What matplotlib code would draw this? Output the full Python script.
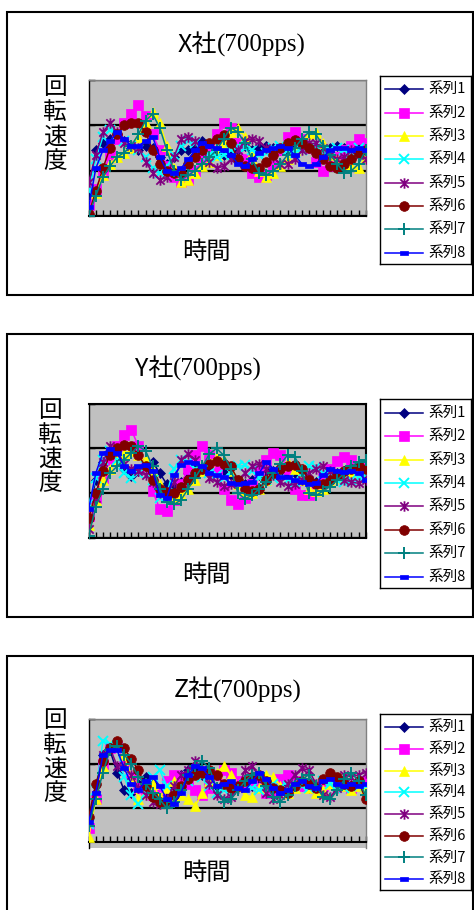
import matplotlib
matplotlib.use("Agg")
import matplotlib.pyplot as plt
from matplotlib.path import Path
from matplotlib.patches import Rectangle
import numpy as np

# ---------------------------------------------------------------- data
steps = list(range(40))
series_names = ["系列1", "系列2", "系列3", "系列4", "系列5", "系列6", "系列7", "系列8"]
companies = ["X社", "Y社", "Z社"]
condition = "(700pps)"
y_label = "回転速度"
x_label = "時間"

# X社
x_s1 = [0.50, 1.45, 1.60, 1.70, 1.80, 1.65, 1.50, 1.45, 1.55, 1.50, 1.30, 1.15, 1.30, 1.45, 1.45, 1.50, 1.65, 1.55, 1.40, 1.35,
        1.35, 1.45, 1.55, 1.45, 1.50, 1.55, 1.50, 1.45, 1.45, 1.50, 1.55, 1.55, 1.50, 1.45, 1.50, 1.55, 1.50, 1.45, 1.50, 1.50]
x_s2 = [0.25, 0.60, 0.95, 1.35, 1.70, 2.05, 2.25, 2.45, 2.20, 1.80, 1.45, 1.10, 0.85, 0.75, 0.80, 1.00, 1.25, 1.55, 1.80, 2.05,
        1.95, 1.60, 1.25, 0.95, 0.85, 0.90, 1.10, 1.45, 1.75, 1.85, 1.70, 1.50, 1.20, 1.00, 1.10, 1.30, 1.45, 1.55, 1.70, 1.60]
x_s3 = [0.05, 0.50, 0.90, 1.15, 1.30, 1.40, 1.50, 1.75, 2.05, 2.30, 2.05, 1.55, 1.05, 0.75, 0.80, 0.95, 1.10, 1.20, 1.35, 1.60,
        1.85, 1.95, 1.75, 1.40, 1.00, 0.85, 0.95, 1.10, 1.25, 1.45, 1.60, 1.80, 1.85, 1.60, 1.35, 1.25, 1.15, 1.10, 1.05, 1.30]
x_s4 = [0.55, 1.25, 1.75, 1.90, 1.80, 1.65, 1.55, 1.45, 1.30, 1.05, 0.95, 1.10, 1.35, 1.55, 1.65, 1.60, 1.45, 1.35, 1.30, 1.35,
        1.45, 1.55, 1.50, 1.45, 1.35, 1.40, 1.50, 1.55, 1.45, 1.40, 1.45, 1.50, 1.50, 1.40, 1.45, 1.50, 1.45, 1.40, 1.50, 1.45]
x_s5 = [0.75, 1.35, 1.85, 2.05, 1.85, 1.60, 1.55, 1.50, 1.20, 0.95, 0.80, 0.85, 1.30, 1.70, 1.75, 1.65, 1.45, 1.20, 1.05, 1.10,
        1.25, 1.45, 1.65, 1.70, 1.65, 1.50, 1.30, 1.15, 1.15, 1.25, 1.45, 1.60, 1.60, 1.50, 1.35, 1.25, 1.30, 1.45, 1.35, 1.25]
x_s6 = [0.05, 0.55, 1.05, 1.50, 1.80, 2.00, 2.05, 2.05, 1.85, 1.45, 1.15, 1.00, 0.95, 0.95, 1.15, 1.30, 1.45, 1.60, 1.70, 1.78,
        1.60, 1.25, 1.10, 1.05, 1.05, 1.20, 1.35, 1.50, 1.62, 1.68, 1.60, 1.50, 1.40, 1.25, 1.10, 1.05, 1.15, 1.25, 1.40, 1.45]
x_s7 = [0.00, 0.45, 0.85, 1.10, 1.30, 1.40, 1.55, 1.80, 2.10, 2.25, 1.95, 1.45, 1.00, 0.80, 0.90, 1.00, 1.15, 1.30, 1.45, 1.70,
        1.95, 1.85, 1.60, 1.25, 0.95, 0.90, 1.00, 1.15, 1.35, 1.50, 1.70, 1.85, 1.80, 1.55, 1.35, 1.15, 0.95, 1.00, 1.15, 1.45]
x_s8 = [0.20, 1.05, 1.45, 1.65, 1.85, 1.70, 1.55, 1.55, 1.65, 1.75, 1.30, 1.00, 0.95, 1.05, 1.25, 1.45, 1.62, 1.55, 1.50, 1.45,
        1.35, 1.15, 1.10, 1.25, 1.40, 1.45, 1.50, 1.55, 1.50, 1.35, 1.15, 1.10, 1.15, 1.30, 1.45, 1.50, 1.50, 1.45, 1.50, 1.45]

# Y社
y_s1 = [0.55, 1.30, 1.70, 1.95, 1.80, 1.55, 1.38, 1.50, 1.65, 1.70, 1.45, 1.20, 1.15, 1.25, 1.45, 1.58, 1.55, 1.50, 1.45, 1.50,
        1.40, 1.25, 1.20, 1.30, 1.40, 1.50, 1.50, 1.45, 1.40, 1.45, 1.42, 1.30, 1.25, 1.30, 1.40, 1.45, 1.50, 1.50, 1.45, 1.45]
y_s2 = [0.50, 0.90, 1.35, 1.75, 2.05, 2.30, 2.42, 2.05, 1.60, 1.05, 0.65, 0.60, 0.85, 1.20, 1.55, 1.85, 2.05, 1.85, 1.50, 1.10,
        0.85, 0.75, 0.90, 1.20, 1.50, 1.75, 1.90, 1.85, 1.55, 1.10, 0.95, 0.95, 1.10, 1.35, 1.55, 1.72, 1.80, 1.75, 1.60, 1.55]
y_s3 = [0.30, 0.85, 1.30, 1.55, 1.75, 1.90, 1.95, 1.85, 1.75, 1.50, 1.20, 1.00, 0.90, 0.95, 1.10, 1.30, 1.50, 1.70, 1.80, 1.75,
        1.50, 1.20, 1.05, 1.00, 1.10, 1.30, 1.45, 1.60, 1.70, 1.55, 1.30, 1.10, 1.05, 1.10, 1.25, 1.35, 1.40, 1.45, 1.50, 1.50]
y_s4 = [0.75, 1.35, 1.75, 1.95, 1.75, 1.45, 1.35, 1.45, 1.60, 1.30, 0.90, 1.00, 1.55, 1.75, 1.70, 1.55, 1.50, 1.45, 1.40, 1.35,
        1.45, 1.60, 1.62, 1.50, 1.35, 1.30, 1.35, 1.40, 1.30, 1.25, 1.45, 1.60, 1.58, 1.45, 1.40, 1.30, 1.25, 1.30, 1.35, 1.40]
y_s5 = [0.20, 0.90, 1.70, 2.05, 1.95, 1.65, 1.55, 1.50, 1.40, 1.25, 1.00, 0.95, 1.25, 1.75, 1.88, 1.75, 1.55, 1.35, 1.25, 1.17,
        1.20, 1.30, 1.45, 1.60, 1.66, 1.55, 1.40, 1.25, 1.17, 1.20, 1.30, 1.45, 1.55, 1.60, 1.50, 1.40, 1.30, 1.25, 1.22, 1.30]
y_s6 = [0.45, 1.00, 1.50, 1.85, 2.02, 2.08, 2.05, 1.85, 1.60, 1.30, 1.10, 1.02, 1.00, 1.15, 1.30, 1.45, 1.55, 1.65, 1.72, 1.65,
        1.60, 1.30, 1.10, 1.05, 1.10, 1.30, 1.45, 1.55, 1.60, 1.62, 1.55, 1.30, 1.20, 1.20, 1.30, 1.40, 1.50, 1.55, 1.60, 1.55]
y_s7 = [0.05, 0.70, 1.10, 1.45, 1.60, 1.75, 1.90, 2.05, 1.95, 1.60, 1.10, 0.80, 0.75, 0.85, 1.10, 1.35, 1.60, 1.88, 2.00, 1.85,
        1.55, 1.00, 0.88, 0.95, 1.10, 1.25, 1.45, 1.65, 1.85, 1.82, 1.50, 1.00, 0.95, 1.05, 1.15, 1.30, 1.45, 1.60, 1.70, 1.75]
y_s8 = [0.65, 1.45, 1.90, 1.98, 1.90, 1.60, 1.50, 1.60, 1.62, 1.50, 0.95, 0.90, 1.40, 1.62, 1.70, 1.68, 1.60, 1.45, 1.40, 1.36,
        1.22, 1.20, 1.22, 1.25, 1.45, 1.70, 1.55, 1.36, 1.36, 1.30, 1.25, 1.21, 1.22, 1.40, 1.55, 1.50, 1.48, 1.50, 1.45, 1.30]

# Z社
z_s1 = [0.60, 1.30, 2.20, 2.30, 1.80, 1.40, 1.35, 1.55, 1.70, 1.55, 1.40, 1.35, 1.50, 1.75, 1.85, 1.90, 1.75, 1.60, 1.45, 1.50,
        1.55, 1.50, 1.45, 1.50, 1.60, 1.55, 1.50, 1.45, 1.50, 1.55, 1.50, 1.45, 1.50, 1.55, 1.60, 1.55, 1.50, 1.50, 1.55, 1.50]
z_s2 = [0.55, 1.20, 2.00, 2.35, 2.40, 2.05, 1.70, 1.45, 1.35, 1.30, 1.40, 1.60, 1.75, 1.70, 1.55, 1.40, 1.30, 1.45, 1.75, 1.85,
        1.80, 1.60, 1.50, 1.55, 1.45, 1.35, 1.40, 1.65, 1.75, 1.60, 1.50, 1.55, 1.45, 1.50, 1.55, 1.60, 1.50, 1.45, 1.55, 1.60]
z_s3 = [0.35, 1.20, 1.95, 2.40, 2.50, 2.20, 1.70, 1.20, 1.35, 1.55, 1.25, 1.45, 1.60, 1.30, 1.20, 1.05, 1.35, 1.60, 1.80, 1.95,
        1.75, 1.50, 1.30, 1.25, 1.45, 1.75, 1.70, 1.50, 1.35, 1.45, 1.60, 1.45, 1.35, 1.40, 1.55, 1.65, 1.50, 1.40, 1.50, 1.45]
z_s4 = [0.65, 1.40, 2.50, 2.45, 2.35, 1.70, 1.30, 1.10, 1.35, 1.70, 1.85, 1.50, 1.35, 1.45, 1.60, 1.75, 1.70, 1.50, 1.35, 1.40,
        1.45, 1.50, 1.55, 1.45, 1.40, 1.50, 1.55, 1.45, 1.50, 1.55, 1.50, 1.45, 1.50, 1.60, 1.55, 1.50, 1.45, 1.55, 1.50, 1.50]
z_s5 = [0.70, 1.45, 2.20, 2.35, 1.95, 1.95, 1.75, 1.45, 1.30, 1.15, 1.10, 1.20, 1.50, 1.75, 1.85, 2.05, 1.85, 1.55, 1.30, 1.20,
        1.25, 1.45, 1.85, 1.95, 1.70, 1.35, 1.20, 1.30, 1.55, 1.75, 1.90, 1.85, 1.55, 1.30, 1.25, 1.45, 1.75, 1.70, 1.75, 1.80]
z_s6 = [0.80, 1.55, 2.05, 2.35, 2.50, 2.35, 2.10, 1.85, 1.50, 1.25, 1.15, 1.15, 1.30, 1.50, 1.65, 1.75, 1.80, 1.85, 1.75, 1.55,
        1.45, 1.50, 1.60, 1.70, 1.75, 1.60, 1.45, 1.40, 1.35, 1.50, 1.60, 1.55, 1.45, 1.65, 1.80, 1.70, 1.55, 1.50, 1.60, 1.20]
z_s7 = [0.60, 1.20, 1.80, 2.30, 2.40, 2.20, 2.00, 1.70, 1.55, 1.35, 1.20, 1.00, 1.15, 1.40, 1.75, 1.95, 2.05, 1.90, 1.45, 1.15,
        1.20, 1.40, 1.60, 1.75, 1.80, 1.50, 1.25, 1.15, 1.30, 1.50, 1.65, 1.75, 1.50, 1.25, 1.20, 1.40, 1.65, 1.80, 1.60, 1.30]
z_s8 = [0.70, 1.35, 2.20, 2.30, 2.30, 1.90, 1.55, 1.40, 1.60, 1.70, 1.50, 1.20, 1.10, 1.35, 1.75, 1.95, 1.90, 1.70, 1.50, 1.55,
        1.60, 1.45, 1.40, 1.60, 1.80, 1.65, 1.45, 1.35, 1.40, 1.55, 1.60, 1.50, 1.45, 1.60, 1.65, 1.55, 1.50, 1.55, 1.50, 1.55]

x_company = [x_s1, x_s2, x_s3, x_s4, x_s5, x_s6, x_s7, x_s8]
y_company = [y_s1, y_s2, y_s3, y_s4, y_s5, y_s6, y_s7, y_s8]
z_company = [z_s1, z_s2, z_s3, z_s4, z_s5, z_s6, z_s7, z_s8]

# ---------------------------------------------------------------- styles
star_path = Path([(0, -1), (0, 1), (-0.8, -0.8), (0.8, 0.8), (-0.8, 0.8), (0.8, -0.8)],
                 [Path.MOVETO, Path.LINETO, Path.MOVETO, Path.LINETO, Path.MOVETO, Path.LINETO])
bar_path = Path([(-1, -0.55), (1, -0.55), (1, 0.55), (-1, 0.55), (-1, -0.55)],
                [Path.MOVETO, Path.LINETO, Path.LINETO, Path.LINETO, Path.CLOSEPOLY])

styles = [
    dict(color="#000080", marker="D", ms=5.5, mew=0.5),
    dict(color="#FF00FF", marker="s", ms=7.0, mew=0.5),
    dict(color="#FFFF00", marker="^", ms=7.5, mew=0.5),
    dict(color="#00FFFF", marker="x", ms=6.5, mew=1.4),
    dict(color="#800080", marker=star_path, ms=7.5, mew=1.3),
    dict(color="#800000", marker="o", ms=7.0, mew=0.5),
    dict(color="#008080", marker="+", ms=8.0, mew=1.4),
    dict(color="#0000FF", marker=bar_path, ms=6.0, mew=0.5),
]

cjk = ["Noto Sans CJK JP", "DejaVu Sans"]
serif = ["Liberation Serif", "DejaVu Serif"]

W, H = 474, 910
fig = plt.figure(figsize=(W / 100, H / 100), dpi=100)
fig.patch.set_facecolor("white")


def fx(x):
    return x / W


def fy(y):
    return 1 - y / H


# per-chart layout in pixels
layouts = [
    dict(data=x_company, box=(12, 295), plot=(80, 216), ymin=0.0, axis_at=0.0,
         title_join=216.5, title_base=51.7, ylab_x=55, ylab_y=[87.5, 112.5, 137, 161.7],
         xlab_y=252.3, legend=(76, 264.3), leg_first=89.3, leg_step=23.35, frame="#808080"),
    dict(data=y_company, box=(334.3, 617.3), plot=(403.7, 538), ymin=0.0, axis_at=0.0,
         title_join=173.3, title_base=376, ylab_x=50, ylab_y=[410.7, 435, 459, 484],
         xlab_y=575, legend=(399, 588.3), leg_first=412.7, leg_step=23.4, frame="black"),
    dict(data=z_company, box=(655.7, 915), plot=(719, 847.7), ymin=0.117, axis_at=0.25,
         title_join=213.3, title_base=697.3, ylab_x=55, ylab_y=[720.5, 745, 769.7, 794],
         xlab_y=873.3, legend=(714.3, 890), leg_first=727.3, leg_step=21.7, frame="#808080"),
]

plot_left, plot_right = 88.7, 365.7

for comp, lay in zip(companies, layouts):
    # outer chart frame
    top, bot = lay["box"]
    fig.patches.append(Rectangle((fx(7.3), fy(bot)), fx(472.5 - 7.3), (bot - top) / H,
                                 transform=fig.transFigure, fill=False,
                                 edgecolor="black", lw=1.5, zorder=0))

    # plot area
    ptop, pbot = lay["plot"]
    ax = fig.add_axes([fx(plot_left), fy(pbot), fx(plot_right - plot_left), (pbot - ptop) / H])
    ax.set_facecolor("#C0C0C0")
    ax.set_xlim(0, 39)
    ax.set_ylim(lay["ymin"], 3)
    ax.set_yticks([1, 2, 3] if lay["ymin"] > 0 else [0, 1, 2, 3])
    ax.set_xticks(steps)
    ax.yaxis.grid(True, color="black", lw=1.6)
    ax.set_axisbelow(True)
    ax.tick_params(axis="x", direction="in", length=4, width=1, color="black",
                   labelbottom=False)
    ax.tick_params(axis="y", direction="in", length=4, width=1, color="black",
                   labelleft=False)
    for side in ("top", "right"):
        ax.spines[side].set_color(lay["frame"])
        ax.spines[side].set_linewidth(1.5 if lay["frame"] == "black" else 1.0)
    ax.spines["left"].set_color("black")
    ax.spines["left"].set_linewidth(1.0)
    ax.spines["bottom"].set_color("black")
    ax.spines["bottom"].set_linewidth(1.5)
    if lay["axis_at"] > lay["ymin"]:
        ax.spines["bottom"].set_position(("data", lay["axis_at"]))

    for k, (vals, st) in enumerate(zip(lay["data"], styles)):
        ax.plot(steps, vals, color=st["color"], lw=1.1, marker=st["marker"],
                ms=st["ms"], mfc=st["color"], mec=st["color"], mew=st["mew"],
                zorder=3 + k)

    # title: company name in gothic, condition in serif
    fig.text(fx(lay["title_join"]), fy(lay["title_base"]), comp, family=cjk,
             fontsize=18, ha="right", va="baseline")
    fig.text(fx(lay["title_join"]), fy(lay["title_base"]), condition, family=serif,
             fontsize=18, ha="left", va="baseline")

    # vertical axis title, one character per line
    for ch, yy in zip(y_label, lay["ylab_y"]):
        fig.text(fx(lay["ylab_x"]), fy(yy), ch, family=cjk, fontsize=17,
                 ha="center", va="center")
    fig.text(fx(206.7), fy(lay["xlab_y"]), x_label, family=cjk, fontsize=17.5,
             ha="center", va="center")

    # legend box
    ltop, lbot = lay["legend"]
    lax = fig.add_axes([fx(380), fy(lbot), fx(470.7 - 380), (lbot - ltop) / H])
    lax.set_xlim(380, 470.7)
    lax.set_ylim(lbot, ltop)
    lax.set_xticks([])
    lax.set_yticks([])
    for sp in lax.spines.values():
        sp.set_color("black")
        sp.set_linewidth(1.0)
    for k, (name, st) in enumerate(zip(series_names, styles)):
        yy = lay["leg_first"] + k * lay["leg_step"]
        lax.plot([385, 423], [yy, yy], color=st["color"], lw=1.1)
        lax.plot([403.5], [yy], color=st["color"], marker=st["marker"], ms=st["ms"],
                 mfc=st["color"], mec=st["color"], mew=st["mew"], lw=0)
        lax.text(428.3, yy, name, family=cjk, fontsize=10.5, ha="left", va="center")

fig.savefig("out.png", dpi=100)
